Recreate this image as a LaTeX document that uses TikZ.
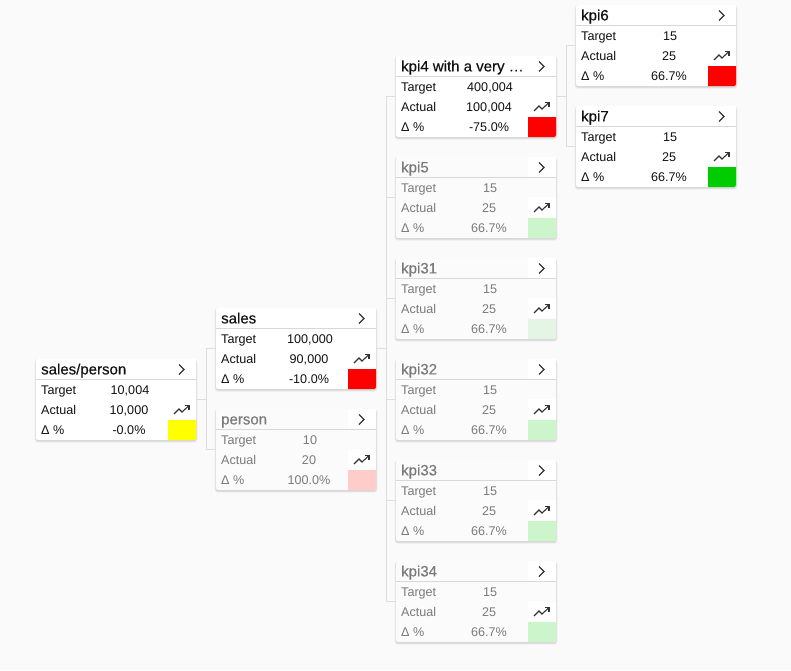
\documentclass[tikz,border=0pt]{standalone}
\usepackage{fontspec}
\setmainfont{Liberation Sans}
\newfontfamily\titlefont[FakeBold=0.4]{Liberation Sans}
\definecolor{pagebg}{HTML}{FAFAFA}
\definecolor{fadedbg}{HTML}{FBFBFB}
\definecolor{linec}{HTML}{DDDDDD}
\definecolor{rulec}{HTML}{D8D8D8}
\definecolor{ink}{HTML}{111111}
\definecolor{faded}{HTML}{7A7A7A}
\definecolor{iconc}{HTML}{333333}
\definecolor{flagred}{HTML}{FF0000}
\definecolor{flaggreen}{HTML}{00CC00}
\definecolor{flagyellow}{HTML}{FFFF00}
\definecolor{palegreen}{HTML}{CCF5CC}
\definecolor{palergreen}{HTML}{E5F5E5}
\definecolor{palered}{HTML}{FFCCCC}
\tikzset{
  x=1pt,y=-1pt,
  cardbox/.style={minimum width=160pt,minimum height=81pt,inner sep=0pt,outer sep=0pt,anchor=north west,
    draw=none,rounded corners=2pt},
  shadowlayer/.style={fill=black,fill opacity=.04,rounded corners=3pt},
  link/.style={draw=linec,line width=.8pt},
  titletext/.style={anchor=base west,font=\titlefont\fontsize{15}{15}\selectfont,inner sep=0pt},
  celltext/.style={font=\fontsize{12.6}{13}\selectfont,inner sep=0pt},
  chevron/.style={draw=iconc,line width=1.1pt,line join=miter},
  trendline/.style={draw=iconc,line width=1.1pt},
}
% name, x, y, title, target, actual, delta, swatch, box fill
\newcommand{\kpicard}[9]{%
  \begin{scope}[shift={(#2,#3)}]
    \foreach \g in {0,.5,1,1.5}{\fill[shadowlayer] (-\g,-\g+1.5) rectangle (160+\g,82.2+\g);}
  \end{scope}
  \node[cardbox,fill=#9] (#1) at (#2,#3) {};
  \begin{scope}[shift={(#2,#3)}]
    \fill[white] (132,0) rectangle (160,20);
    \fill[white] (132,40) rectangle (160,60);
    \draw[rulec,line width=.8pt] (0,20.5) -- (160,20.5);
    \node[titletext,text=\cardtext] (#1title) at (5,15.4) {#4};
    \node[celltext,anchor=base west,text=\cardtext] (#1tl) at (5,35.5) {Target};
    \node[celltext,anchor=base west,text=\cardtext] (#1al) at (5,55.5) {Actual};
    \node[celltext,anchor=base west,text=\cardtext] (#1dl) at (5,75.5) {Δ \%};
    \node[celltext,anchor=base,text=\cardtext] (#1tv) at (94,35.5) {#5};
    \node[celltext,anchor=base,text=\cardtext] (#1av) at (93,55.5) {#6};
    \node[celltext,anchor=base,text=\cardtext] (#1dv) at (93,75.5) {#7};
    \draw[chevron] (143,5.5) -- (148,10.5) -- (143,15.5);
    \draw[trendline] (138,55) -- (143,50) -- (146,53) -- (152.5,47);
    \draw[trendline] (149,46.5) -- (153,46.5) -- (153,50.5);
    \fill[#8] (132,61) -- (160,61) [rounded corners=2pt] -- (160,81) [sharp corners] -- (132,81) -- cycle;
  \end{scope}}
\newcommand{\cardtext}{ink}
\begin{document}
\begin{tikzpicture}
\useasboundingbox (0,0) rectangle (791,670);
\fill[pagebg] (0,0) rectangle (791,670);
% cards
\kpicard{sp}{36}{359}{sales/person}{10,004}{10,000}{-0.0\%}{flagyellow}{white}
\kpicard{sales}{216}{308}{sales}{100,000}{90,000}{-10.0\%}{flagred}{white}
\kpicard{kfour}{396}{56}{kpi4 with a very \ldots}{400,004}{100,004}{-75.0\%}{flagred}{white}
\kpicard{ksix}{576}{5}{kpi6}{15}{25}{66.7\%}{flagred}{white}
\kpicard{kseven}{576}{106}{kpi7}{15}{25}{66.7\%}{flaggreen}{white}
\renewcommand{\cardtext}{faded}
\kpicard{person}{216}{409}{person}{10}{20}{100.0\%}{palered}{fadedbg}
\kpicard{kfive}{396}{157}{kpi5}{15}{25}{66.7\%}{palegreen}{fadedbg}
\kpicard{kthreeone}{396}{258}{kpi31}{15}{25}{66.7\%}{palergreen}{fadedbg}
\kpicard{kthreetwo}{396}{359}{kpi32}{15}{25}{66.7\%}{palegreen}{fadedbg}
\kpicard{kthreethree}{396}{460}{kpi33}{15}{25}{66.7\%}{palegreen}{fadedbg}
\kpicard{kthreefour}{396}{561}{kpi34}{15}{25}{66.7\%}{palegreen}{fadedbg}
% junctions
\coordinate (j1) at (206.5,399.5);
\coordinate (j2) at (386.5,349);
\coordinate (j3) at (566.5,97);
% connectors
\draw[link] (sp.east) -- (j1) (sales.west) -| (j1) (person.west) -| (j1);
\draw[link] (sales.east) -- (j2 |- sales.east)
  (kfour.west) -| (j2) (kfive.west) -| (j2) (kthreeone.west) -| (j2)
  (kthreetwo.west) -| (j2) (kthreethree.west) -| (j2) (kthreefour.west) -| (j2);
\draw[link] (kfour.east) -- (j3 |- kfour.east) (ksix.west) -| (j3) (kseven.west) -| (j3);
\end{tikzpicture}
\end{document}
